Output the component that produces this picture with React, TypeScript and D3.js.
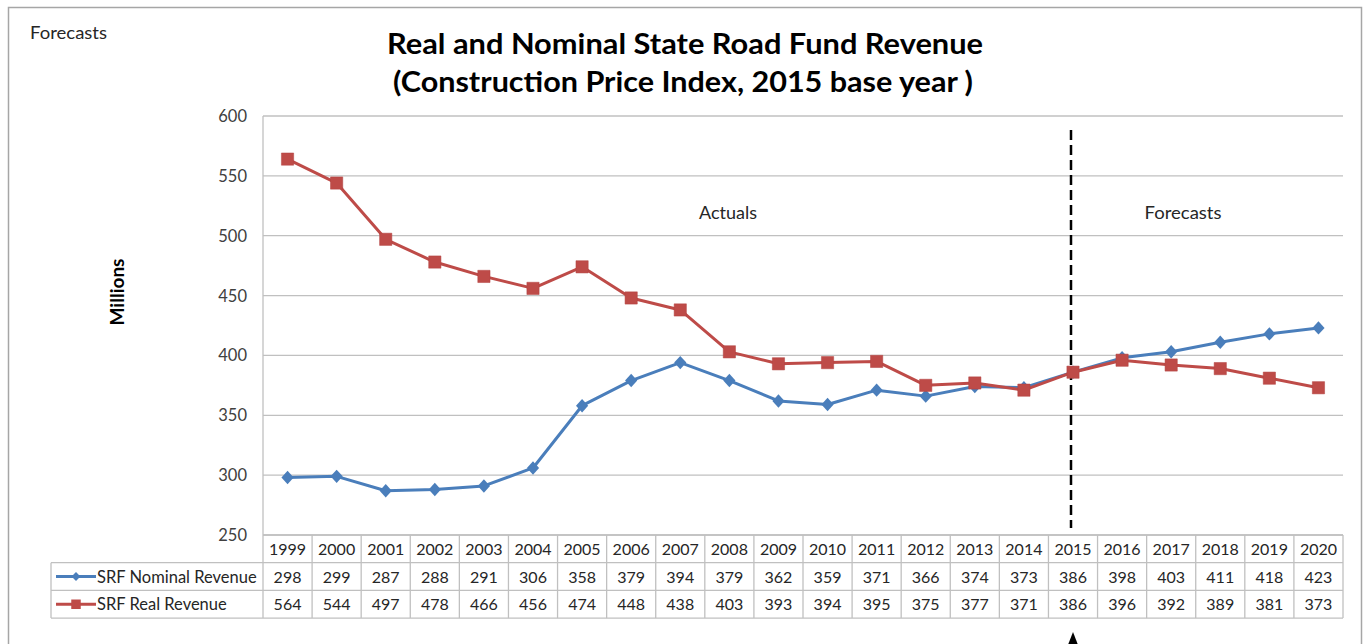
import { useEffect, useRef } from 'react';
import * as d3 from 'd3';

const years = ['1999', '2000', '2001', '2002', '2003', '2004', '2005', '2006', '2007', '2008', '2009',
  '2010', '2011', '2012', '2013', '2014', '2015', '2016', '2017', '2018', '2019', '2020'];
const nominal = [298, 299, 287, 288, 291, 306, 358, 379, 394, 379, 362, 359, 371, 366, 374, 373, 386, 398, 403, 411, 418, 423];
const real = [564, 544, 497, 478, 466, 456, 474, 448, 438, 403, 393, 394, 395, 375, 377, 371, 386, 396, 392, 389, 381, 373];
const yTicks = [250, 300, 350, 400, 450, 500, 550, 600];
const seriesNames = ['SRF Nominal Revenue', 'SRF Real Revenue'];
const splitYear = '2015';

const W = 1366, H = 644;
const FONT = 'Lato, "Open Sans", sans-serif';

const App = () => {
  const ref = useRef<SVGSVGElement>(null);

  useEffect(() => {
    const svg = d3.select(ref.current);
    svg.selectAll('*').remove();

    const left = 263, right = 1343, top = 116, bottom = 535;
    const rowH = 27.7;

    const x = d3.scaleBand().domain(years).range([left, right]);
    const y = d3.scaleLinear().domain([250, 600]).range([bottom, top]);
    const cx = (d: string) => (x(d) as number) + x.bandwidth() / 2;

    const blue = '#4a7ebb', red = '#be4b48';
    const gridC = '#c0c0c0';
    const textC = '#262626';

    // outer frame
    svg.append('rect')
      .attr('x', 8.5).attr('y', 7.5)
      .attr('width', 1353).attr('height', 660)
      .attr('fill', '#fff').attr('stroke', '#a6a6a6').attr('stroke-width', 1.5);

    // corner label
    svg.append('text')
      .attr('x', 30).attr('y', 39)
      .attr('font-family', FONT).attr('font-size', 18).attr('fill', textC)
      .attr('textLength', 77).attr('lengthAdjust', 'spacingAndGlyphs')
      .text('Forecasts');

    // title
    svg.append('text')
      .attr('x', 685).attr('y', 54).attr('text-anchor', 'middle')
      .attr('font-family', FONT).attr('font-size', 28.5).attr('font-weight', 'bold').attr('fill', '#000')
      .attr('textLength', 596).attr('lengthAdjust', 'spacingAndGlyphs')
      .text('Real and Nominal State Road Fund Revenue');
    svg.append('text')
      .attr('x', 683).attr('y', 92).attr('text-anchor', 'middle')
      .attr('font-family', FONT).attr('font-size', 28.5).attr('font-weight', 'bold').attr('fill', '#000')
      .attr('textLength', 580).attr('lengthAdjust', 'spacingAndGlyphs')
      .text('(Construction Price Index, 2015 base year )');

    // gridlines
    svg.append('g').selectAll('line')
      .data(yTicks)
      .join('line')
      .attr('x1', left).attr('x2', right)
      .attr('y1', d => y(d)).attr('y2', d => y(d))
      .attr('stroke', gridC).attr('stroke-width', 1.3);

    // vertical axis line
    svg.append('line')
      .attr('x1', left).attr('x2', left).attr('y1', top).attr('y2', bottom)
      .attr('stroke', gridC).attr('stroke-width', 1.3);

    // y tick labels
    svg.append('g').selectAll('text')
      .data(yTicks)
      .join('text')
      .attr('x', 247).attr('y', d => y(d) + 6)
      .attr('text-anchor', 'end')
      .attr('font-family', FONT).attr('font-size', 16.5).attr('fill', '#404040')
      .text(d => d);

    // axis title
    svg.append('text')
      .attr('transform', 'translate(124,292) rotate(-90)')
      .attr('text-anchor', 'middle')
      .attr('font-family', FONT).attr('font-size', 19).attr('font-weight', 'bold').attr('fill', '#000')
      .text('Millions');

    // section labels
    svg.append('text')
      .attr('x', 728).attr('y', 219).attr('text-anchor', 'middle')
      .attr('font-family', FONT).attr('font-size', 18).attr('fill', textC)
      .text('Actuals');
    svg.append('text')
      .attr('x', 1183).attr('y', 219).attr('text-anchor', 'middle')
      .attr('font-family', FONT).attr('font-size', 18).attr('fill', textC)
      .attr('textLength', 77).attr('lengthAdjust', 'spacingAndGlyphs')
      .text('Forecasts');

    // dashed divider at 2015
    svg.append('line')
      .attr('x1', cx(splitYear) - 2).attr('x2', cx(splitYear) - 2)
      .attr('y1', 130).attr('y2', 528)
      .attr('stroke', '#000').attr('stroke-width', 2.5)
      .attr('stroke-dasharray', '10,5');

    // series lines
    const line = d3.line<number>()
      .x((_, i) => cx(years[i]))
      .y(d => y(d));

    svg.append('path').datum(nominal)
      .attr('d', line).attr('fill', 'none')
      .attr('stroke', blue).attr('stroke-width', 3).attr('stroke-linejoin', 'round');
    svg.append('path').datum(real)
      .attr('d', line).attr('fill', 'none')
      .attr('stroke', red).attr('stroke-width', 3).attr('stroke-linejoin', 'round');

    const diamond = d3.symbol().type(d3.symbolDiamond2).size(95);
    const square = d3.symbol().type(d3.symbolSquare).size(150);

    svg.append('g').selectAll('path')
      .data(nominal)
      .join('path')
      .attr('transform', (d, i) => `translate(${cx(years[i])},${y(d)}) scale(1,1.1)`)
      .attr('d', diamond as any)
      .attr('fill', blue);

    svg.append('g').selectAll('path')
      .data(real)
      .join('path')
      .attr('transform', (d, i) => `translate(${cx(years[i])},${y(d)})`)
      .attr('d', square as any)
      .attr('fill', red).attr('stroke', '#b24340').attr('stroke-width', 0.5);

    // ****************** data table ***************************
    const tableLeft = 51;
    const t = svg.append('g');
    const r0 = bottom, r1 = bottom + rowH, r2 = bottom + rowH * 2, r3 = bottom + rowH * 3;

    // horizontal rules
    t.append('line').attr('x1', left).attr('x2', right).attr('y1', r0).attr('y2', r0).attr('stroke', gridC).attr('stroke-width', 1.3);
    [r1, r2, r3].forEach(ry => {
      t.append('line').attr('x1', tableLeft).attr('x2', right).attr('y1', ry).attr('y2', ry)
        .attr('stroke', gridC).attr('stroke-width', 1.3);
    });
    // vertical rules
    t.append('line').attr('x1', tableLeft).attr('x2', tableLeft).attr('y1', r1).attr('y2', r3).attr('stroke', gridC).attr('stroke-width', 1.3);
    const edges = years.map(d => x(d) as number).concat([right]);
    t.selectAll('line.v')
      .data(edges)
      .join('line')
      .attr('class', 'v')
      .attr('x1', d => d).attr('x2', d => d)
      .attr('y1', r0).attr('y2', r3)
      .attr('stroke', gridC).attr('stroke-width', 1.3);

    // year header
    t.append('g').selectAll('text')
      .data(years)
      .join('text')
      .attr('x', d => cx(d)).attr('y', r0 + 20)
      .attr('text-anchor', 'middle')
      .attr('font-family', FONT).attr('font-size', 16).attr('fill', textC)
      .text(d => d);

    [nominal, real].forEach((vals, k) => {
      const ry = k === 0 ? r1 : r2;
      t.append('g').selectAll('text')
        .data(vals)
        .join('text')
        .attr('x', (_, i) => cx(years[i])).attr('y', ry + 20)
        .attr('text-anchor', 'middle')
        .attr('font-family', FONT).attr('font-size', 16).attr('fill', textC)
        .text(d => d);

      // legend key
      const my = ry + rowH / 2;
      const col = k === 0 ? blue : red;
      t.append('line').attr('x1', 56).attr('x2', 96).attr('y1', my).attr('y2', my)
        .attr('stroke', col).attr('stroke-width', 3);
      t.append('path')
        .attr('transform', `translate(76,${my})`)
        .attr('d', (k === 0 ? d3.symbol().type(d3.symbolDiamond2).size(50) : d3.symbol().type(d3.symbolSquare).size(90)) as any)
        .attr('fill', col);
      t.append('text')
        .attr('x', 97).attr('y', ry + 20)
        .attr('font-family', FONT).attr('font-size', 16.5).attr('fill', textC)
        .text(seriesNames[k]);
    });

    // arrow pointing at 2015 column
    const ax = cx(splitYear);
    svg.append('path')
      .attr('d', `M${ax},632 L${ax - 7},650 L${ax + 7},650 Z`)
      .attr('fill', '#000');
  }, []);

  return (
    <svg ref={ref} width={W} height={H}
      style={{ position: 'absolute', left: 0, top: 0, background: '#fff' }} />
  );
};

export default App;
